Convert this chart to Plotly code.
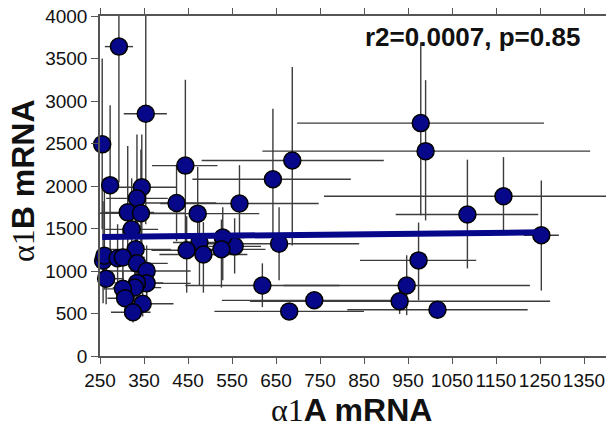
import plotly.graph_objects as go

# alpha1A vs alpha1B mRNA, one point per sample with asymmetric spreads
a1a = [255, 293, 354, 273, 345, 444, 687, 643, 979, 990,
       1167, 1085, 1253, 974, 947, 931, 1017, 680, 737, 619,
       657, 556, 529, 567, 472, 424, 476, 447, 485, 526,
       334, 313, 343, 322, 331, 257, 260, 290, 302, 334,
       356, 264, 356, 334, 329, 302, 307, 347, 325]
a1b = [2490, 3640, 2850, 2010, 1985, 2240, 2300, 2080, 2740, 2410,
       1880, 1665, 1420, 1125, 830, 645, 545, 525, 655, 830,
       1320, 1290, 1395, 1795, 1675, 1800, 1335, 1245, 1195, 1255,
       1855, 1690, 1680, 1490, 1255, 1120, 1180, 1150, 1160, 1090,
       1000, 910, 855, 860, 805, 790, 680, 615, 515]

a1a_err_minus = [0, 32, 50, 20, 90, 76, 206, 183, 281, 371,
                 408, 163, 40, 133, 280, 340, 205, 170, 210, 175,
                 180, 60, 50, 180, 140, 90, 60, 80, 100, 80,
                 70, 60, 100, 60, 70, 0, 0, 30, 40, 60,
                 100, 14, 50, 60, 50, 40, 40, 50, 50]
a1a_err_plus = [0, 32, 48, 20, 80, 73, 208, 177, 280, 374,
                400, 161, 40, 131, 280, 342, 205, 170, 210, 175,
                182, 60, 50, 180, 140, 90, 80, 80, 100, 100,
                70, 60, 100, 60, 80, 60, 50, 40, 50, 70,
                100, 40, 100, 60, 60, 40, 50, 70, 40]
a1b_err_minus = [1000, 1600, 1300, 900, 700, 1000, 1000, 830, 1085, 815,
                 405, 635, 650, 470, 350, 150, 100, 80, 60, 255,
                 430, 320, 505, 450, 500, 450, 500, 500, 450, 450,
                 600, 600, 600, 500, 400, 500, 400, 350, 300, 300,
                 350, 300, 250, 250, 200, 200, 200, 150, 120]
a1b_err_plus = [1010, 600, 1200, 940, 620, 1010, 1100, 830, 950, 835,
                460, 645, 645, 445, 355, 150, 100, 80, 60, 260,
                430, 330, 355, 450, 550, 450, 400, 400, 380, 350,
                750, 780, 750, 600, 400, 700, 800, 400, 350, 300,
                300, 350, 250, 300, 250, 200, 200, 150, 150]

# least-squares line as drawn across the sampled range
fit_x = [255, 1253]
fit_y = [1400, 1455]

x_ticks = list(range(250, 1351, 100))
y_ticks = list(range(0, 4001, 500))
x_range = [250, 1400]
y_range = [0, 4000]

# keep bars inside the frame
xp = [min(p, x_range[1] - v) for p, v in zip(a1a_err_plus, a1a)]
xm = [min(m, v - x_range[0]) for m, v in zip(a1a_err_minus, a1a)]
yp = [min(p, y_range[1] - v) for p, v in zip(a1b_err_plus, a1b)]
ym = [min(m, v - y_range[0]) for m, v in zip(a1b_err_minus, a1b)]

bar_color = "#3c3c3c"
navy = "#07078a"

fig = go.Figure()
fig.add_trace(go.Scatter(
    x=a1a, y=a1b, mode="markers",
    marker=dict(size=17, color=navy, line=dict(color="black", width=1.5)),
    error_x=dict(type="data", symmetric=False, array=xp, arrayminus=xm,
                 color=bar_color, thickness=1.4, width=0),
    error_y=dict(type="data", symmetric=False, array=yp, arrayminus=ym,
                 color=bar_color, thickness=1.4, width=0),
    cliponaxis=False, showlegend=False,
))
fig.add_trace(go.Scatter(
    x=fit_x, y=fit_y, mode="lines",
    line=dict(color=navy, width=6), showlegend=False,
))

axis_font = dict(family="Liberation Sans, Arial, sans-serif", size=19, color="#111")
fig.update_xaxes(range=x_range, tickvals=x_ticks, tickangle=0, ticks="outside", ticklen=6,
                 tickwidth=1.3, tickcolor="#555", showline=True, linecolor="#555",
                 linewidth=1.5, mirror="ticks", showgrid=False, zeroline=False,
                 tickfont=axis_font)
fig.update_yaxes(range=y_range, tickvals=y_ticks, ticks="outside", ticklen=7,
                 tickwidth=1.3, tickcolor="#555", showline=True, linecolor="#555",
                 linewidth=1.5, showgrid=False, zeroline=False, tickfont=axis_font)

title_font = dict(family="Liberation Sans, Arial, sans-serif", size=32, color="#111")
serif = "font-family:'Liberation Serif', 'Times New Roman', serif;font-weight:normal"
fig.add_annotation(xref="paper", yref="paper", x=0.498, y=-0.159,
                   text=f"<span style=\"{serif}\">α1</span><b>A mRNA</b>",
                   showarrow=False, font=title_font, xanchor="center", yanchor="middle")
fig.add_annotation(xref="paper", yref="paper", x=-0.152, y=0.515, textangle=-90,
                   text=f"<span style=\"{serif}\">α1</span><b>B mRNA</b>",
                   showarrow=False, font=title_font, xanchor="center", yanchor="middle")
fig.add_annotation(xref="paper", yref="paper", x=0.953, y=0.938,
                   text="<b>r2=0.0007, p=0.85</b>", showarrow=False,
                   font=dict(family="Liberation Sans, Arial, sans-serif", size=26, color="#111"),
                   xanchor="right", yanchor="middle")

fig.update_layout(width=606, height=432, margin=dict(l=100, r=0, t=16, b=76),
                  plot_bgcolor="white", paper_bgcolor="white")
fig.write_html("out.html")
